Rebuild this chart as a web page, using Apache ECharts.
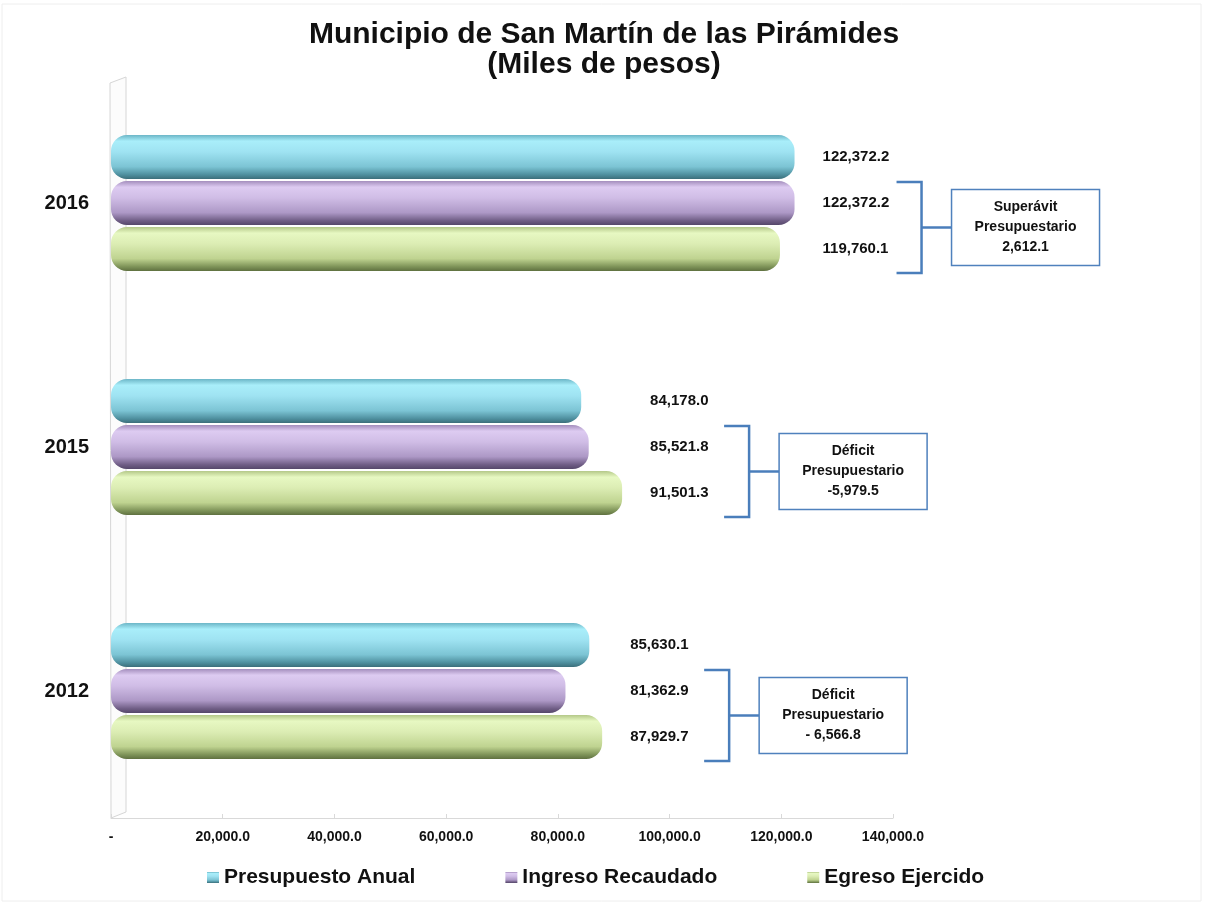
<!DOCTYPE html>
<html>
<head>
<meta charset="utf-8">
<script src="https://cdn.jsdelivr.net/npm/echarts@6/dist/echarts.min.js"></script>
<style>
html, body { margin: 0; padding: 0; background: #fff; }
#main { width: 1206px; height: 905px; }
</style>
</head>
<body>
<div id="main"></div>
<script>
var years = ['2012', '2015', '2016'];
var presupuesto = [85630.1, 84178.0, 122372.2];
var ingreso = [81362.9, 85521.8, 122372.2];
var egreso = [87929.7, 91501.3, 119760.1];
var saldoTitulo = ['Déficit', 'Déficit', 'Superávit'];
var saldoTexto = ['- 6,566.8', '-5,979.5', '2,612.1'];

var FONT = '"Liberation Sans", Arial, sans-serif';
var BLUE = '#4a7ebb';

function fmt(v) {
    return v.toLocaleString('en-US', { minimumFractionDigits: 1, maximumFractionDigits: 1 });
}

// cylinder look: light band near the top, dark at the bottom
function cyl(c) {
    return new echarts.graphic.LinearGradient(0, 0, 0, 1, [
        { offset: 0, color: c[0] },
        { offset: 0.14, color: c[1] },
        { offset: 0.38, color: c[2] },
        { offset: 0.72, color: c[3] },
        { offset: 0.9, color: c[4] },
        { offset: 1, color: c[5] }
    ]);
}

var chart = echarts.init(document.getElementById('main'));

// labels, bracket and box for each year
function renderNotes(params, api) {
    var i = api.value(0);
    var yc = api.coord([0, i])[1];
    var xMax = api.coord([api.value(1), i])[0];
    var step = 46;
    var vals = [presupuesto[i], ingreso[i], egreso[i]];
    var children = [];
    var lx = xMax + 28;
    vals.forEach(function (v, k) {
        children.push({
            type: 'text',
            style: {
                x: lx, y: yc + (k - 1) * step, text: fmt(v),
                fill: '#111', font: 'bold 15px ' + FONT,
                align: 'left', verticalAlign: 'middle'
            }
        });
    });
    var bx0 = xMax + 102, bx1 = bx0 + 25;
    var top = yc - 21, bottom = yc + step + 24;
    var mid = (top + bottom) / 2;
    children.push({
        type: 'polyline',
        shape: { points: [[bx0, top], [bx1, top], [bx1, bottom], [bx0, bottom]] },
        style: { stroke: BLUE, lineWidth: 2.5, fill: null }
    });
    children.push({
        type: 'line',
        shape: { x1: bx1, y1: mid, x2: bx1 + 30, y2: mid },
        style: { stroke: BLUE, lineWidth: 2.5 }
    });
    var bw = 148, bh = 76;
    children.push({
        type: 'rect',
        shape: { x: bx1 + 30, y: mid - bh / 2, width: bw, height: bh },
        style: { fill: '#fff', stroke: '#4f81bd', lineWidth: 1.5 }
    });
    children.push({
        type: 'text',
        style: {
            x: bx1 + 30 + bw / 2, y: mid,
            text: saldoTitulo[i] + '\nPresupuestario\n' + saldoTexto[i],
            fill: '#111', font: 'bold 14px ' + FONT, lineHeight: 20,
            align: 'center', verticalAlign: 'middle'
        }
    });
    return { type: 'group', children: children };
}

var noteData = years.map(function (y, i) {
    return [i, Math.max(presupuesto[i], ingreso[i], egreso[i])];
});

chart.setOption({
    backgroundColor: '#fff',
    animation: false,
    title: {
        text: 'Municipio de San Martín de las Pirámides\n(Miles de pesos)',
        left: 599,
        textAlign: 'center',
        top: 15,
        textStyle: {
            fontFamily: FONT,
            fontSize: 30,
            fontWeight: 'bold',
            color: '#111',
            lineHeight: 30
        }
    },
    legend: {
        bottom: 12,
        left: 202,
        itemGap: 90,
        itemWidth: 12,
        itemHeight: 11,
        icon: 'rect',
        data: ['Presupuesto Anual', 'Ingreso Recaudado', 'Egreso Ejercido'],
        textStyle: { fontFamily: FONT, fontSize: 21, fontWeight: 'bold', color: '#111' }
    },
    grid: { left: 111, right: 313, top: 81, bottom: 92 },
    graphic: [
        {
            type: 'rect',
            shape: { x: 2, y: 4, width: 1199, height: 897 },
            style: { fill: null, stroke: '#eeeeee', lineWidth: 1 },
            z: -10
        },
        {
            type: 'polygon',
            shape: { points: [[110, 83], [126, 77], [126, 812], [111, 818]] },
            style: { fill: '#fcfcfc', stroke: '#d6d6d6', lineWidth: 1 },
            z: -5
        }
    ],
    xAxis: {
        type: 'value',
        min: 0,
        max: 140000,
        interval: 20000,
        offset: 5,
        splitLine: { show: false },
        axisLine: { show: true, lineStyle: { color: '#d9d9d9', width: 1 } },
        axisTick: { show: true, inside: true, length: 4, lineStyle: { color: '#d9d9d9' } },
        axisLabel: {
            margin: 12,
            color: '#111',
            fontFamily: FONT,
            fontSize: 14,
            fontWeight: 'bold',
            formatter: function (v) { return v === 0 ? '-' : fmt(v); }
        }
    },
    yAxis: {
        type: 'category',
        data: years,
        axisLine: { show: false },
        axisTick: { show: false },
        axisLabel: {
            margin: 22,
            color: '#111',
            fontFamily: FONT,
            fontSize: 20,
            fontWeight: 'bold'
        }
    },
    series: [
        {
            type: 'bar',
            name: 'Presupuesto Anual',
            barWidth: 44,
            barGap: '4.5%',
            itemStyle: {
                borderRadius: 16,
                color: cyl(['#6cb6c7', '#a9eefa', '#9fe3f2', '#7cc4d4', '#4f909f', '#3b6e7a'])
            },
            data: presupuesto
        },
        {
            type: 'bar',
            name: 'Ingreso Recaudado',
            barWidth: 44,
            barGap: '4.5%',
            itemStyle: {
                borderRadius: 16,
                color: cyl(['#a48ebd', '#ddcbf1', '#d0bde6', '#ad98c6', '#705e86', '#55476a'])
            },
            data: ingreso
        },
        {
            type: 'bar',
            name: 'Egreso Ejercido',
            barWidth: 44,
            barGap: '4.5%',
            itemStyle: {
                borderRadius: 16,
                color: cyl(['#b4c888', '#e7f8c2', '#dcedb4', '#bfd390', '#7f9459', '#5f7140'])
            },
            data: egreso
        },
        {
            type: 'custom',
            name: 'notas',
            renderItem: renderNotes,
            encode: { x: 1, y: 0 },
            z: 5,
            silent: true,
            data: noteData
        }
    ]
});
</script>
</body>
</html>
